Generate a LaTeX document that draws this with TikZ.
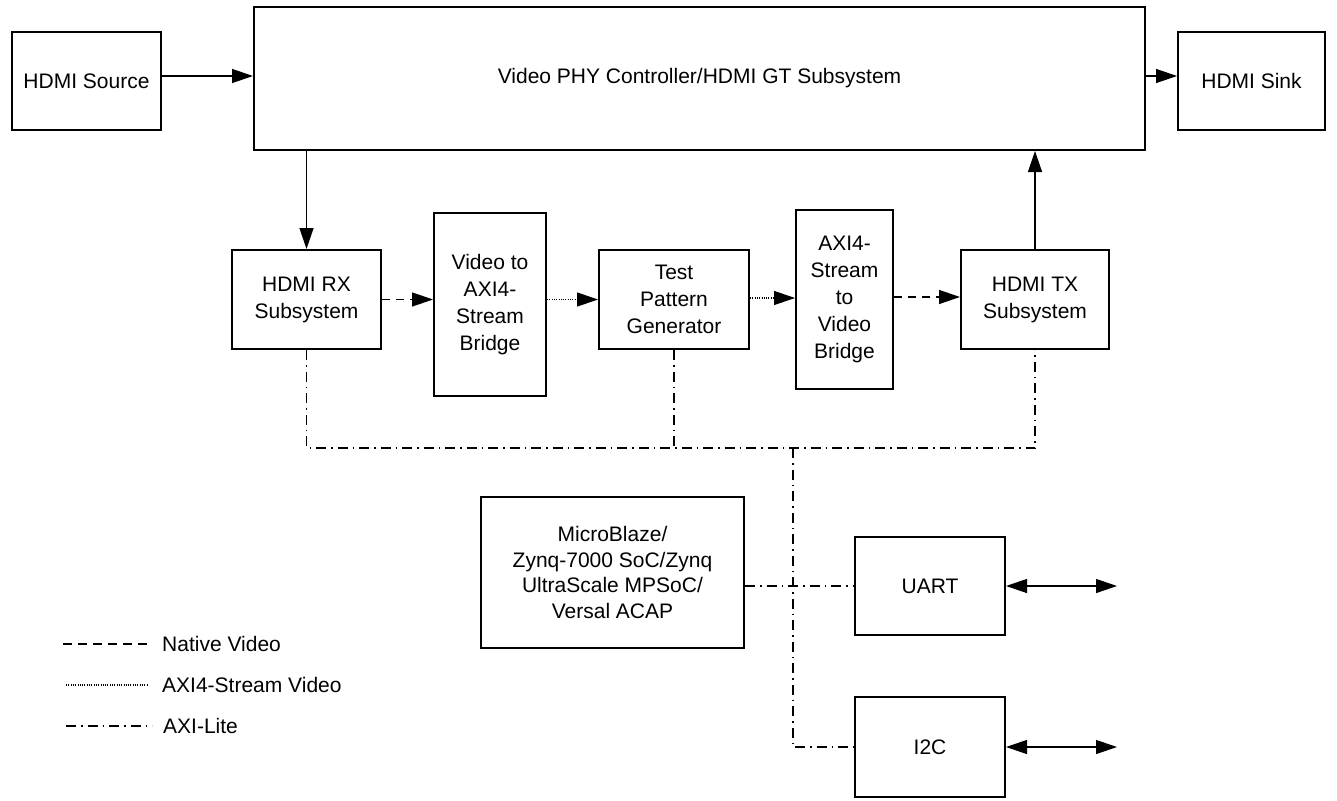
\documentclass[tikz,border=0pt]{standalone}
\usepackage{fontspec}
\setmainfont{Liberation Sans}
\usetikzlibrary{arrows.meta}
\begin{document}
\begin{tikzpicture}[x=1pt,y=-1pt,
  box/.style={draw=black, line width=2pt, align=center, inner sep=0pt,
    font=\fontsize{21}{27}\selectfont},
  conn/.style={line width=1.3pt},
  arr/.style={conn, -{Triangle[length=21pt,width=14pt]}},
  darr/.style={conn, {Triangle[length=21pt,width=14pt]}-{Triangle[length=21pt,width=14pt]}},
  native/.style={conn, dash pattern=on 8pt off 6pt},
  axis/.style={conn, line width=1.1pt, dash pattern=on 1pt off 1.3pt},
  lite/.style={line width=1.1pt, dash pattern=on 10pt off 5pt on 1.5pt off 5pt},
  lbl/.style={anchor=west, inner sep=0pt, font=\fontsize{21}{27}\selectfont}
]
\useasboundingbox (0,0) rectangle (1337,800);

% boxes
\node[box, minimum width=149pt, minimum height=98pt] (src) at (86.5,81) {HDMI Source};
\node[box, minimum width=891pt, minimum height=143pt] (phy) at (699.5,78.5) {Video PHY Controller/HDMI GT Subsystem};
\node[box, minimum width=147pt, minimum height=98pt] (sink) at (1251.5,81) {HDMI Sink};
\node[box, minimum width=149pt, minimum height=99pt] (rx) at (306.5,299.5) {HDMI RX\\Subsystem};
\node[box, minimum width=112pt, minimum height=183pt] (v2a) at (490,304.5) {Video to\\AXI4-\\Stream\\Bridge};
\node[box, minimum width=150pt, minimum height=99pt] (tpg) at (674,299.5) {Test\\Pattern\\Generator};
\node[box, minimum width=97pt, minimum height=179pt] (a2v) at (844.5,299.5) {AXI4-\\Stream\\to\\Video\\Bridge};
\node[box, minimum width=148pt, minimum height=99pt] (tx) at (1035,299.5) {HDMI TX\\Subsystem};
\node[box, minimum width=263pt, minimum height=151pt, font=\fontsize{21}{25.5}\selectfont] (mb) at (612.5,572.5) {MicroBlaze/\\Zynq-7000 SoC/Zynq\\UltraScale MPSoC/\\Versal ACAP};
\node[box, minimum width=150pt, minimum height=98pt] (uart) at (930,586) {UART};
\node[box, minimum width=150pt, minimum height=100pt] (i2c) at (930,747) {I2C};

% coordinates
\coordinate (bus) at (0,448);
\coordinate (jct) at (793,448);
\coordinate (uartend) at (1117,586);
\coordinate (i2cend) at (1117,747);

% solid arrows
\draw[arr] ([yshift=5pt]src.east) -- ([yshift=5pt]src.east -| phy.west);
\draw[arr] ([yshift=5pt]sink.west -| phy.east) -- ([yshift=5pt]sink.west);
\draw[arr] (rx.north |- phy.south) -- (rx.north);
\draw[arr] (tx.north) -- (tx.north |- phy.south);

% video chain
\draw[native, -{Triangle[length=21pt,width=14pt]}] (rx.east) -- (rx.east -| v2a.west);
\draw[axis, -{Triangle[length=21pt,width=14pt]}] (v2a.east |- tpg.west) -- (tpg.west);
\draw[axis, -{Triangle[length=21pt,width=14pt]}] ([yshift=1.5pt]tpg.east) -- ([yshift=1.5pt]tpg.east -| a2v.west);
\draw[native, -{Triangle[length=21pt,width=14pt]}] ([yshift=2.5pt]a2v.east |- tx.west) -- ([yshift=2.5pt]tx.west);

% AXI-Lite bus
\draw[lite] (rx.south) -- (rx.south |- bus) -- (tx.south |- bus) -- (tx.south);
\draw[lite] (tpg.south) -- (tpg.south |- bus);
\draw[lite] (jct) -- (jct |- i2c.west) -- (i2c.west);
\draw[lite] (mb.east |- uart.west) -- (uart.west);

% external arrows
\draw[darr] (uart.east) -- (uartend);
\draw[darr] (i2c.east) -- (i2cend);

% legend
\coordinate (l1a) at (63,644); \coordinate (l1b) at (152,644);
\coordinate (l2a) at (66,685); \coordinate (l2b) at (148,685);
\coordinate (l3a) at (66,726); \coordinate (l3b) at (152,726);
\draw[conn, dash pattern=on 9pt off 6pt] (l1a) -- (l1b);
\draw[axis] (l2a) -- (l2b);
\draw[lite] (l3a) -- (l3b);
\node[lbl] (t1) at (162,644) {Native Video};
\node[lbl] (t2) at (162,685) {AXI4-Stream Video};
\node[lbl] (t3) at (163,726) {AXI-Lite};
\end{tikzpicture}
\end{document}
